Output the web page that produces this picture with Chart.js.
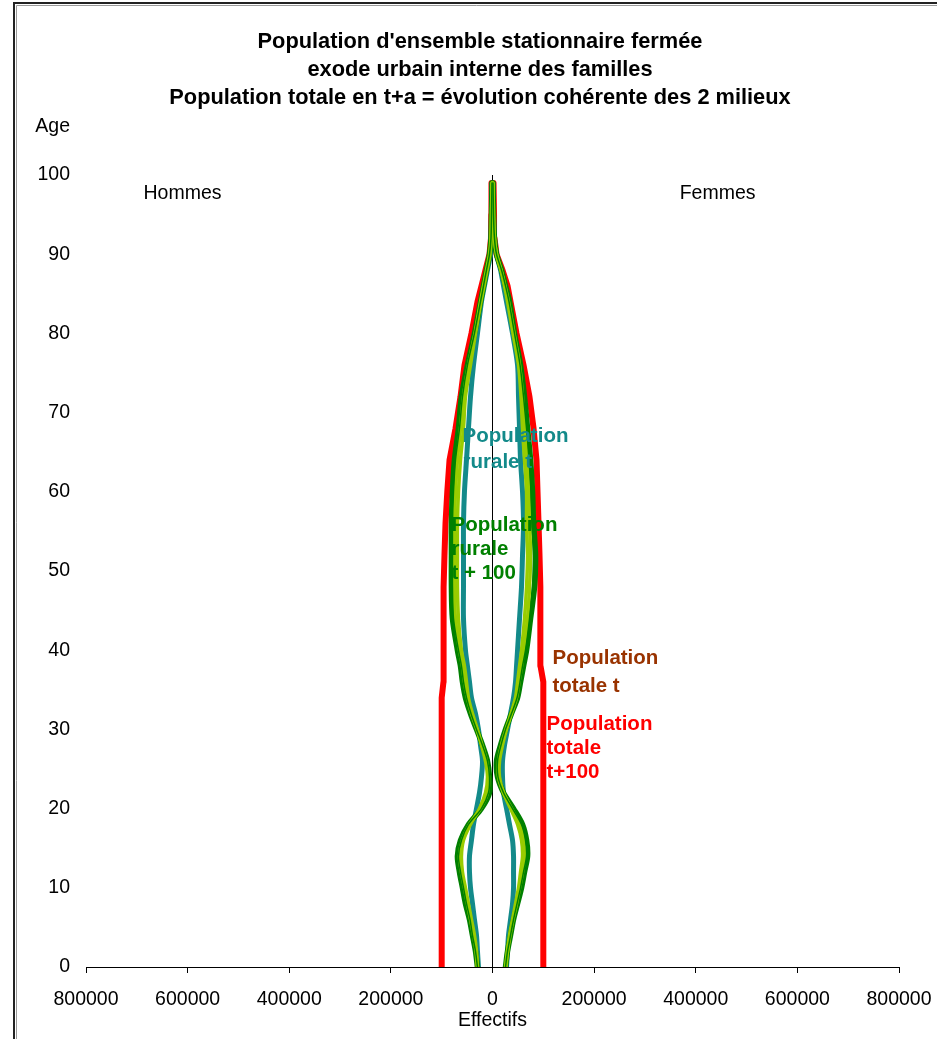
<!DOCTYPE html>
<html lang="fr">
<head>
<meta charset="utf-8">
<title>Population d'ensemble stationnaire fermée</title>
<script src="https://cdn.jsdelivr.net/npm/chart.js@4.4.1/dist/chart.umd.min.js"></script>
<style>
  html, body { margin: 0; padding: 0; background: #fff; }
  canvas { display: block; }
</style>
</head>
<body>
<canvas id="pyramide" width="937" height="1039"></canvas>
<script>
// Âges (axe vertical)
const AGES = [0, 2, 4, 6, 8, 10, 12, 14, 16, 18, 20, 22, 24, 26, 28, 30, 32, 34, 36, 38,
              40, 44, 48, 52, 56, 60, 64, 68, 72, 76, 80, 84, 86, 88, 90, 92, 95, 99];

// Effectifs : hommes en négatif (à gauche), femmes en positif (à droite)
const RURALE_T_H = [-27600,-29600,-31500,-35500,-39400,-43300,-45300,-45300,-41400,-37400,
  -31500,-25600,-21700,-19700,-23600,-27600,-33500,-41400,-45300,-49300,
  -53200,-57100,-57100,-57100,-57100,-55200,-51200,-47300,-43300,-37400,
  -29600,-21700,-15800,-9900,-3900,-3000,-2000,-1000];
const RURALE_T_F = [27600,29600,31500,35500,39400,41400,41400,41400,39400,33500,
  27600,21700,19700,19700,23600,29600,35500,41400,45300,47300,
  49300,53200,57100,59100,61100,59100,55200,53200,51200,49300,
  39400,27600,21700,15800,7900,3900,2000,1000];

const RURALE_T25_H = [-29600,-31500,-35500,-41400,-47300,-53200,-59100,-61100,-57100,-43300,
  -25600,-13800,-9900,-13800,-21700,-29600,-39400,-47300,-51200,-55200,
  -61100,-67000,-69000,-69000,-69000,-67000,-63000,-57100,-53200,-43300,
  -33500,-22700,-16700,-10800,-4900,-3000,-2000,-1000];
const RURALE_T25_F = [26600,29600,33500,39400,45300,51200,55200,59100,57100,49300,
  35500,21700,13800,13800,19700,27600,36400,45300,49300,53200,
  57100,63000,67000,69000,67000,67000,63000,59100,56100,51200,
  40400,29600,23600,16700,7900,3900,2000,1000];

const RURALE_T50_H = [-29600,-32500,-37400,-43300,-49300,-55200,-61100,-65000,-59100,-45300,
  -23600,-9900,-7900,-11800,-20700,-30500,-41400,-49300,-55200,-59100,
  -65000,-72900,-74900,-74900,-74900,-72900,-69000,-63000,-57100,-47300,
  -34500,-23600,-17700,-11800,-5900,-3000,-2000,-1000];
const RURALE_T50_F = [25600,29600,34500,40400,47300,53200,59100,63000,61100,53200,
  37400,21700,11800,11800,17700,26600,37400,47300,52200,57100,
  61100,69000,72900,74900,72900,70900,68000,63000,59100,53200,
  42400,31500,24600,16700,7900,3900,2000,1000];

const RURALE_T75_H = [-29600,-33500,-39400,-44300,-51200,-57100,-63000,-67000,-61100,-47300,
  -21700,-7900,-5900,-9900,-19700,-31500,-42400,-51200,-57100,-61100,
  -67000,-76800,-78800,-78800,-78800,-76800,-72900,-65000,-59100,-49300,
  -35500,-23600,-17700,-11800,-5900,-3000,-2000,-1000];
const RURALE_T75_F = [25600,29600,35500,41400,48300,55200,61100,67000,65000,57100,
  39400,21700,10800,9900,16700,25600,37400,48300,54200,59100,
  65000,72900,78800,80800,77800,75800,71900,67000,61100,54200,
  43300,32500,25600,17700,7900,3900,2000,1000];

const RURALE_T100_H = [-29600,-33500,-39400,-45300,-53200,-59100,-65000,-69000,-63000,-47300,
  -21700,-5900,-5900,-9900,-19700,-31500,-43300,-53200,-59100,-63000,
  -69000,-78800,-80800,-80800,-80800,-78800,-74900,-67000,-61100,-49300,
  -35500,-23600,-17700,-11800,-5900,-3000,-2000,-1000];
const RURALE_T100_F = [25600,29600,35500,41400,49300,57100,63000,69000,67000,59100,
  41400,21700,9900,7900,15800,25600,37400,49300,55200,61100,
  67000,74900,82700,84700,80800,78800,74900,69000,63000,55200,
  43300,33500,25600,17700,7900,3900,2000,1000];

const TOTALE_T100_H = [-100000,-100000,-100000,-100000,-100000,-100000,-100000,-100000,-100000,-100000,
  -100000,-100000,-100000,-100000,-100000,-100000,-100000,-100000,-96500,-96500,
  -96500,-96500,-95500,-94500,-92500,-89000,-84600,-72800,-63000,-55100,
  -41400,-29600,-21700,-13800,-5900,-3000,-2500,-2000];
const TOTALE_T100_F = [100000,100000,100000,100000,100000,100000,100000,100000,100000,100000,
  100000,100000,100000,100000,100000,100000,100000,100000,100000,94500,
  94500,94500,93500,92500,90600,88600,86600,80800,72800,61100,
  47300,35500,29600,19700,7900,3900,3000,2000];

// Population stationnaire : l'effectif total reste le même entre t et t+100
const TOTALE_T_H = TOTALE_T100_H.slice();
const TOTALE_T_F = TOTALE_T100_F.slice();

// Graduations
const X_MIN = -800000, X_MAX = 800000, X_STEP = 200000;
const Y_MIN = 0, Y_MAX = 100, Y_STEP = 10;

const TITRE = [
  "Population d'ensemble stationnaire fermée",
  "exode urbain interne des familles",
  "Population totale en t+a = évolution cohérente des 2 milieux"
];

const COULEURS = {
  totaleT: '#993300',
  totaleT100: '#FF0000',
  ruraleT: '#138A8A',
  intermediaire: '#99CC00',
  ruraleT100: '#008000'
};

const FONT = "'Liberation Sans', Arial, Helvetica, sans-serif";

function points(values) {
  return AGES.map((age, i) => ({ x: values[i], y: age }));
}

function serie(values, color, width, order, tension) {
  return {
    data: points(values),
    showLine: true,
    borderColor: color,
    backgroundColor: color,
    borderWidth: width,
    pointRadius: 0,
    tension: tension,
    borderJoinStyle: 'round',
    borderCapStyle: 'round',
    order: order
  };
}

const datasets = [
  serie(TOTALE_T_H, COULEURS.totaleT, 4, 9, 0),
  serie(TOTALE_T_F, COULEURS.totaleT, 4, 9, 0),
  serie(TOTALE_T100_H, COULEURS.totaleT100, 6, 8, 0),
  serie(TOTALE_T100_F, COULEURS.totaleT100, 6, 8, 0),
  serie(RURALE_T_H, COULEURS.ruraleT, 5, 7, 0.3),
  serie(RURALE_T_F, COULEURS.ruraleT, 5, 7, 0.3),
  serie(RURALE_T25_H, COULEURS.intermediaire, 3.5, 5, 0.3),
  serie(RURALE_T25_F, COULEURS.intermediaire, 3.5, 5, 0.3),
  serie(RURALE_T50_H, COULEURS.intermediaire, 3.5, 4, 0.3),
  serie(RURALE_T50_F, COULEURS.intermediaire, 3.5, 4, 0.3),
  serie(RURALE_T75_H, COULEURS.ruraleT100, 1.5, 3, 0.3),
  serie(RURALE_T75_F, COULEURS.ruraleT100, 1.5, 3, 0.3),
  serie(RURALE_T100_H, COULEURS.ruraleT100, 5.5, 6, 0.3),
  serie(RURALE_T100_F, COULEURS.ruraleT100, 5.5, 6, 0.3)
];

// Étiquettes posées dans le repère des données (x = effectif, y = âge)
const ETIQUETTES = [
  { x: -59000, y: 67.0, pas: 26, couleur: COULEURS.ruraleT, lignes: ['Population', 'rurale t'] },
  { x: -80700, y: 55.8, pas: 24, couleur: COULEURS.ruraleT100, lignes: ['Population', 'rurale', 't + 100'] },
  { x: 118000, y: 39.0, pas: 28, couleur: COULEURS.totaleT, lignes: ['Population', 'totale t'] },
  { x: 106300, y: 30.6, pas: 24, couleur: COULEURS.totaleT100, lignes: ['Population', 'totale', 't+100'] }
];

const textes = {
  id: 'textes',
  afterDraw(chart) {
    const ctx = chart.ctx;
    const sx = chart.scales.x, sy = chart.scales.y;
    ctx.save();

    // cadre
    ctx.strokeStyle = '#222';
    ctx.lineWidth = 2;
    ctx.beginPath();
    ctx.moveTo(14, 1039);
    ctx.lineTo(14, 3);
    ctx.lineTo(937, 3);
    ctx.stroke();
    ctx.strokeStyle = '#9a9a9a';
    ctx.lineWidth = 1;
    ctx.beginPath();
    ctx.moveTo(16.5, 1039);
    ctx.lineTo(16.5, 5.5);
    ctx.lineTo(937, 5.5);
    ctx.stroke();

    // titre
    ctx.fillStyle = '#000';
    ctx.textAlign = 'center';
    ctx.textBaseline = 'middle';
    ctx.font = 'bold 21.8px ' + FONT;
    const yTitre = [42, 70, 98];
    TITRE.forEach((t, i) => ctx.fillText(t, 480, yTitre[i]));

    // libellés d'axes et côtés
    ctx.font = '19.5px ' + FONT;
    ctx.textAlign = 'right';
    ctx.fillText('Age', 70, 127);
    ctx.textAlign = 'center';
    ctx.fillText('Effectifs', sx.getPixelForValue(0), 1021);
    ctx.fillText('Hommes', sx.getPixelForValue(-610000), sy.getPixelForValue(97.6));
    ctx.fillText('Femmes', sx.getPixelForValue(443000), sy.getPixelForValue(97.6));

    // étiquettes des séries
    ctx.font = 'bold 20.5px ' + FONT;
    ctx.textAlign = 'left';
    ETIQUETTES.forEach(e => {
      ctx.fillStyle = e.couleur;
      const x0 = sx.getPixelForValue(e.x);
      const y0 = sy.getPixelForValue(e.y);
      e.lignes.forEach((l, i) => ctx.fillText(l, x0, y0 + i * e.pas));
    });
    ctx.restore();
  }
};

new Chart(document.getElementById('pyramide'), {
  type: 'scatter',
  data: { datasets },
  options: {
    responsive: false,
    animation: false,
    devicePixelRatio: 1,
    layout: { padding: { left: 0, right: 38, top: 175, bottom: 22 } },
    plugins: {
      legend: { display: false },
      tooltip: { enabled: false },
      title: { display: false }
    },
    scales: {
      x: {
        type: 'linear',
        min: X_MIN,
        max: X_MAX,
        afterBuildTicks(axis) {
          const t = [];
          for (let v = X_MIN; v <= X_MAX; v += X_STEP) t.push({ value: v });
          axis.ticks = t;
        },
        ticks: {
          color: '#000',
          font: { family: FONT, size: 19.5 },
          padding: 15,
          maxRotation: 0,
          autoSkip: false,
          callback: v => String(Math.abs(v))
        },
        grid: {
          color: c => (c.tick && c.tick.value === 0) ? '#000' : 'rgba(0,0,0,0)',
          tickColor: '#000',
          tickLength: 6,
          lineWidth: 1
        },
        border: { display: true, color: '#000', width: 1 },
        afterFit(axis) {
          axis.height = 50;
          axis.paddingLeft = 0;
          axis.paddingRight = 0;
        }
      },
      y: {
        type: 'linear',
        min: Y_MIN,
        max: Y_MAX,
        ticks: {
          stepSize: Y_STEP,
          color: '#000',
          font: { family: FONT, size: 19.5 },
          padding: 16
        },
        grid: { display: false, drawTicks: false },
        border: { display: false },
        afterFit(axis) {
          axis.width = 86;
          axis.paddingTop = 0;
          axis.paddingBottom = 0;
        }
      }
    }
  },
  plugins: [textes]
});
</script>
</body>
</html>
